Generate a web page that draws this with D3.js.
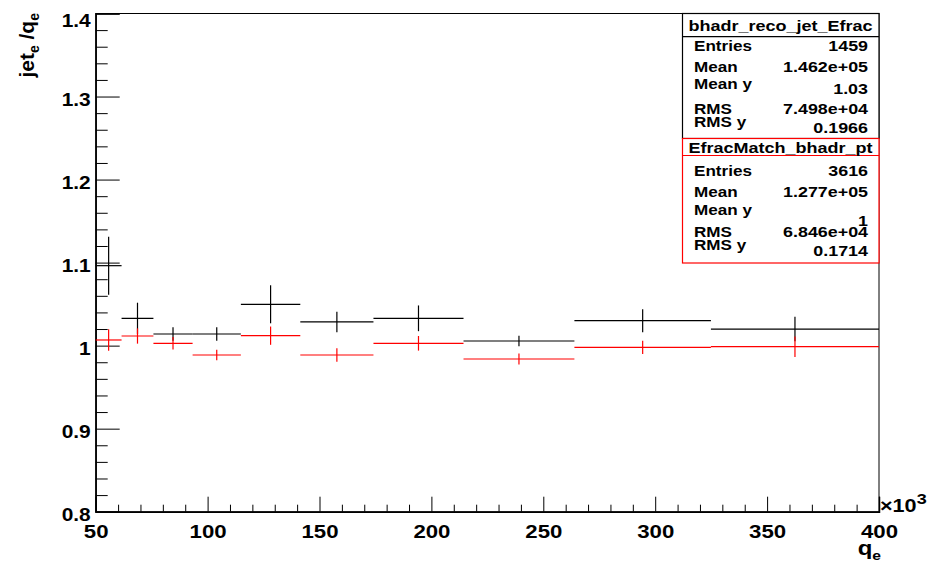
<!DOCTYPE html>
<html><head><meta charset="utf-8">
<script src="https://cdn.jsdelivr.net/npm/d3@7"></script>
<style>
body{margin:0;background:#fff;}
svg{display:block;font-family:"Liberation Sans",Arial,sans-serif;font-weight:bold;}
</style></head>
<body>
<svg id="c" width="943" height="562"></svg>
<script>
// ---- data ----
const binEdges = [50, 61.56, 75.79, 93.30, 114.87, 141.42, 174.11, 214.35, 263.90, 324.90, 400]; // x10^3
const recoValues = [1.0963, 1.0329, 1.0140, 1.0140, 1.0498, 1.0285, 1.0329, 1.0056, 1.0300, 1.0200];
const recoErrors = [0.0349, 0.0188, 0.0080, 0.0080, 0.0229, 0.0123, 0.0155, 0.0064, 0.0139, 0.0148];
const matchValues = [1.0068, 1.0116, 1.0028, 0.9887, 1.0120, 0.9887, 1.0028, 0.9839, 0.9980, 0.9987];
const matchErrors = [0.0130, 0.0092, 0.0076, 0.0064, 0.0110, 0.0080, 0.0088, 0.0066, 0.0080, 0.0124];
const xTicks = [50, 100, 150, 200, 250, 300, 350, 400];
const yTicks = [0.8, 0.9, 1.0, 1.1, 1.2, 1.3, 1.4];
const yTickLabels = ["0.8", "0.9", "1", "1.1", "1.2", "1.3", "1.4"];
const statsReco = {title: "bhadr_reco_jet_Efrac",
  labels: ["Entries", "Mean", "Mean y", "RMS", "RMS y"],
  values: ["1459", "1.462e+05", "1.03", "7.498e+04", "0.1966"]};
const statsMatch = {title: "EfracMatch_bhadr_pt",
  labels: ["Entries", "Mean", "Mean y", "RMS", "RMS y"],
  values: ["3616", "1.277e+05", "1", "6.846e+04", "0.1714"]};

// ---- layout ----
const SX = 1.2; // horizontal text stretch of the original picture
const svg = d3.select("#c");
const L = 95.7, R = 879, T = 13.5, B = 511.7;
const x = d3.scaleLinear().domain([50, 400]).range([L, R]);
const y = d3.scaleLinear().domain([0.8, 1.4]).range([B, T]);

function stretch(sel, k) {
  sel.each(function () {
    const w = this.getComputedTextLength();
    d3.select(this).attr("textLength", w * k).attr("lengthAdjust", "spacingAndGlyphs");
  });
}

// frame
svg.append("rect").attr("x", L).attr("y", T).attr("width", R - L).attr("height", B - T)
  .attr("fill", "none").attr("stroke", "#000").attr("stroke-width", 1);

// y axis minor ticks
const yMinor = d3.range(0.8, 1.4001, 0.02).filter(v => Math.abs(Math.round(v * 10) - v * 10) > 1e-6);
const gyMinor = svg.append("g").attr("transform", `translate(${L},0)`)
  .call(d3.axisLeft(y).tickValues(yMinor).tickSize(-12).tickFormat(""));
gyMinor.select(".domain").remove();
const gy = svg.append("g").attr("transform", `translate(${L},0)`)
  .call(d3.axisLeft(y).tickValues(yTicks).tickSize(-24).tickPadding(5)
    .tickFormat((d, i) => yTickLabels[i]));
gy.selectAll("text").attr("font-size", 18.5).attr("font-family", "Liberation Sans, Arial")
  .attr("font-weight", "bold").attr("fill", "#000")
  .attr("dy", (d, i) => i === yTicks.length - 1 ? "0.72em" : "0.47em");
stretch(gy.selectAll("text"), 1.13);

// x axis
const xMinor = d3.range(50, 400.01, 10).filter(v => v % 50 !== 0);
const gxMinor = svg.append("g").attr("transform", `translate(0,${B})`)
  .call(d3.axisBottom(x).tickValues(xMinor).tickSize(-7).tickFormat(""));
gxMinor.select(".domain").remove();
const gx = svg.append("g").attr("transform", `translate(0,${B})`)
  .call(d3.axisBottom(x).tickValues(xTicks).tickSize(-15).tickPadding(12.5).tickFormat(d3.format("d")));
gx.selectAll("text").attr("font-size", 18.5).attr("font-family", "Liberation Sans, Arial")
  .attr("font-weight", "bold").attr("fill", "#000").attr("dy", "0.76em");
stretch(gx.selectAll("text"), 1.2);
svg.selectAll(".tick line").attr("stroke", "#000");
svg.selectAll(".domain").attr("stroke", "#000").attr("stroke-width", 1.5);

// x10^3
const ex = svg.append("text").attr("transform", `translate(880,512) scale(${SX},1)`).attr("font-size", 18);
ex.append("tspan").text("×10");
ex.append("tspan").attr("font-size", 15).attr("dy", -8).text("3");

// x title
const xt = svg.append("text").attr("transform", `translate(881,555) scale(${SX},1)`)
  .attr("text-anchor", "end").attr("font-size", 20);
xt.append("tspan").text("q");
xt.append("tspan").attr("font-size", 13).attr("dy", 5).text("e");

// y title
const yt = svg.append("text").attr("transform", "translate(34,13) rotate(-90)")
  .attr("text-anchor", "end").attr("font-size", 21);
yt.append("tspan").text("jet");
yt.append("tspan").attr("font-size", 14).attr("dy", 5).text("e");
yt.append("tspan").attr("dy", -5).text(" /q");
yt.append("tspan").attr("font-size", 14).attr("dy", 5).text("e");

// data: histogram error bars
function drawHist(values, errors, color) {
  const g = svg.append("g").attr("stroke", color).attr("stroke-width", 1.2).attr("fill", "none");
  const bins = values.map((v, i) => ({lo: binEdges[i], hi: binEdges[i + 1], v, e: errors[i]}));
  g.selectAll("line.h").data(bins).join("line").attr("class", "h")
    .attr("x1", d => x(d.lo)).attr("x2", d => x(d.hi))
    .attr("y1", d => y(d.v)).attr("y2", d => y(d.v));
  g.selectAll("line.v").data(bins).join("line").attr("class", "v")
    .attr("x1", d => x((d.lo + d.hi) / 2)).attr("x2", d => x((d.lo + d.hi) / 2))
    .attr("y1", d => y(d.v - d.e)).attr("y2", d => y(d.v + d.e));
}
drawHist(recoValues, recoErrors, "#000");
drawHist(matchValues, matchErrors, "#ff0000");

// stats boxes
function statsBox(st, color, top, bottom, titleBottom, titleBase, labelBase, valueBase) {
  const g = svg.append("g").attr("font-size", 15);
  g.append("rect").attr("x", 682.5).attr("y", top).attr("width", R - 682.5).attr("height", bottom - top)
    .attr("fill", "#fff").attr("stroke", color).attr("stroke-width", 1.2);
  g.append("line").attr("x1", 682.5).attr("x2", R).attr("y1", titleBottom).attr("y2", titleBottom)
    .attr("stroke", color).attr("stroke-width", 1.2);
  const t = g.append("text").attr("x", 780.5).attr("y", titleBase).attr("text-anchor", "middle")
    .text(st.title);
  stretch(t, SX);
  const lab = g.selectAll("text.l").data(st.labels).join("text").attr("class", "l")
    .attr("x", 694).attr("y", (d, i) => labelBase[i]).text(d => d);
  stretch(lab, 1.14);
  const val = g.selectAll("text.v").data(st.values).join("text").attr("class", "v")
    .attr("x", 868).attr("y", (d, i) => valueBase[i]).attr("text-anchor", "end").text(d => d);
  stretch(val, 1.19);
}
statsBox(statsReco, "#000", T, 138.5, 36.7, 30.5,
  [51, 72, 88.5, 113.5, 126.5], [51, 72, 93.5, 113.5, 133]);
statsBox(statsMatch, "#ff0000", 138.5, 263, 155.5, 153,
  [175.5, 196.5, 214.5, 237, 250], [175.5, 196.5, 225.5, 237, 255.5]);
</script>
</body></html>
